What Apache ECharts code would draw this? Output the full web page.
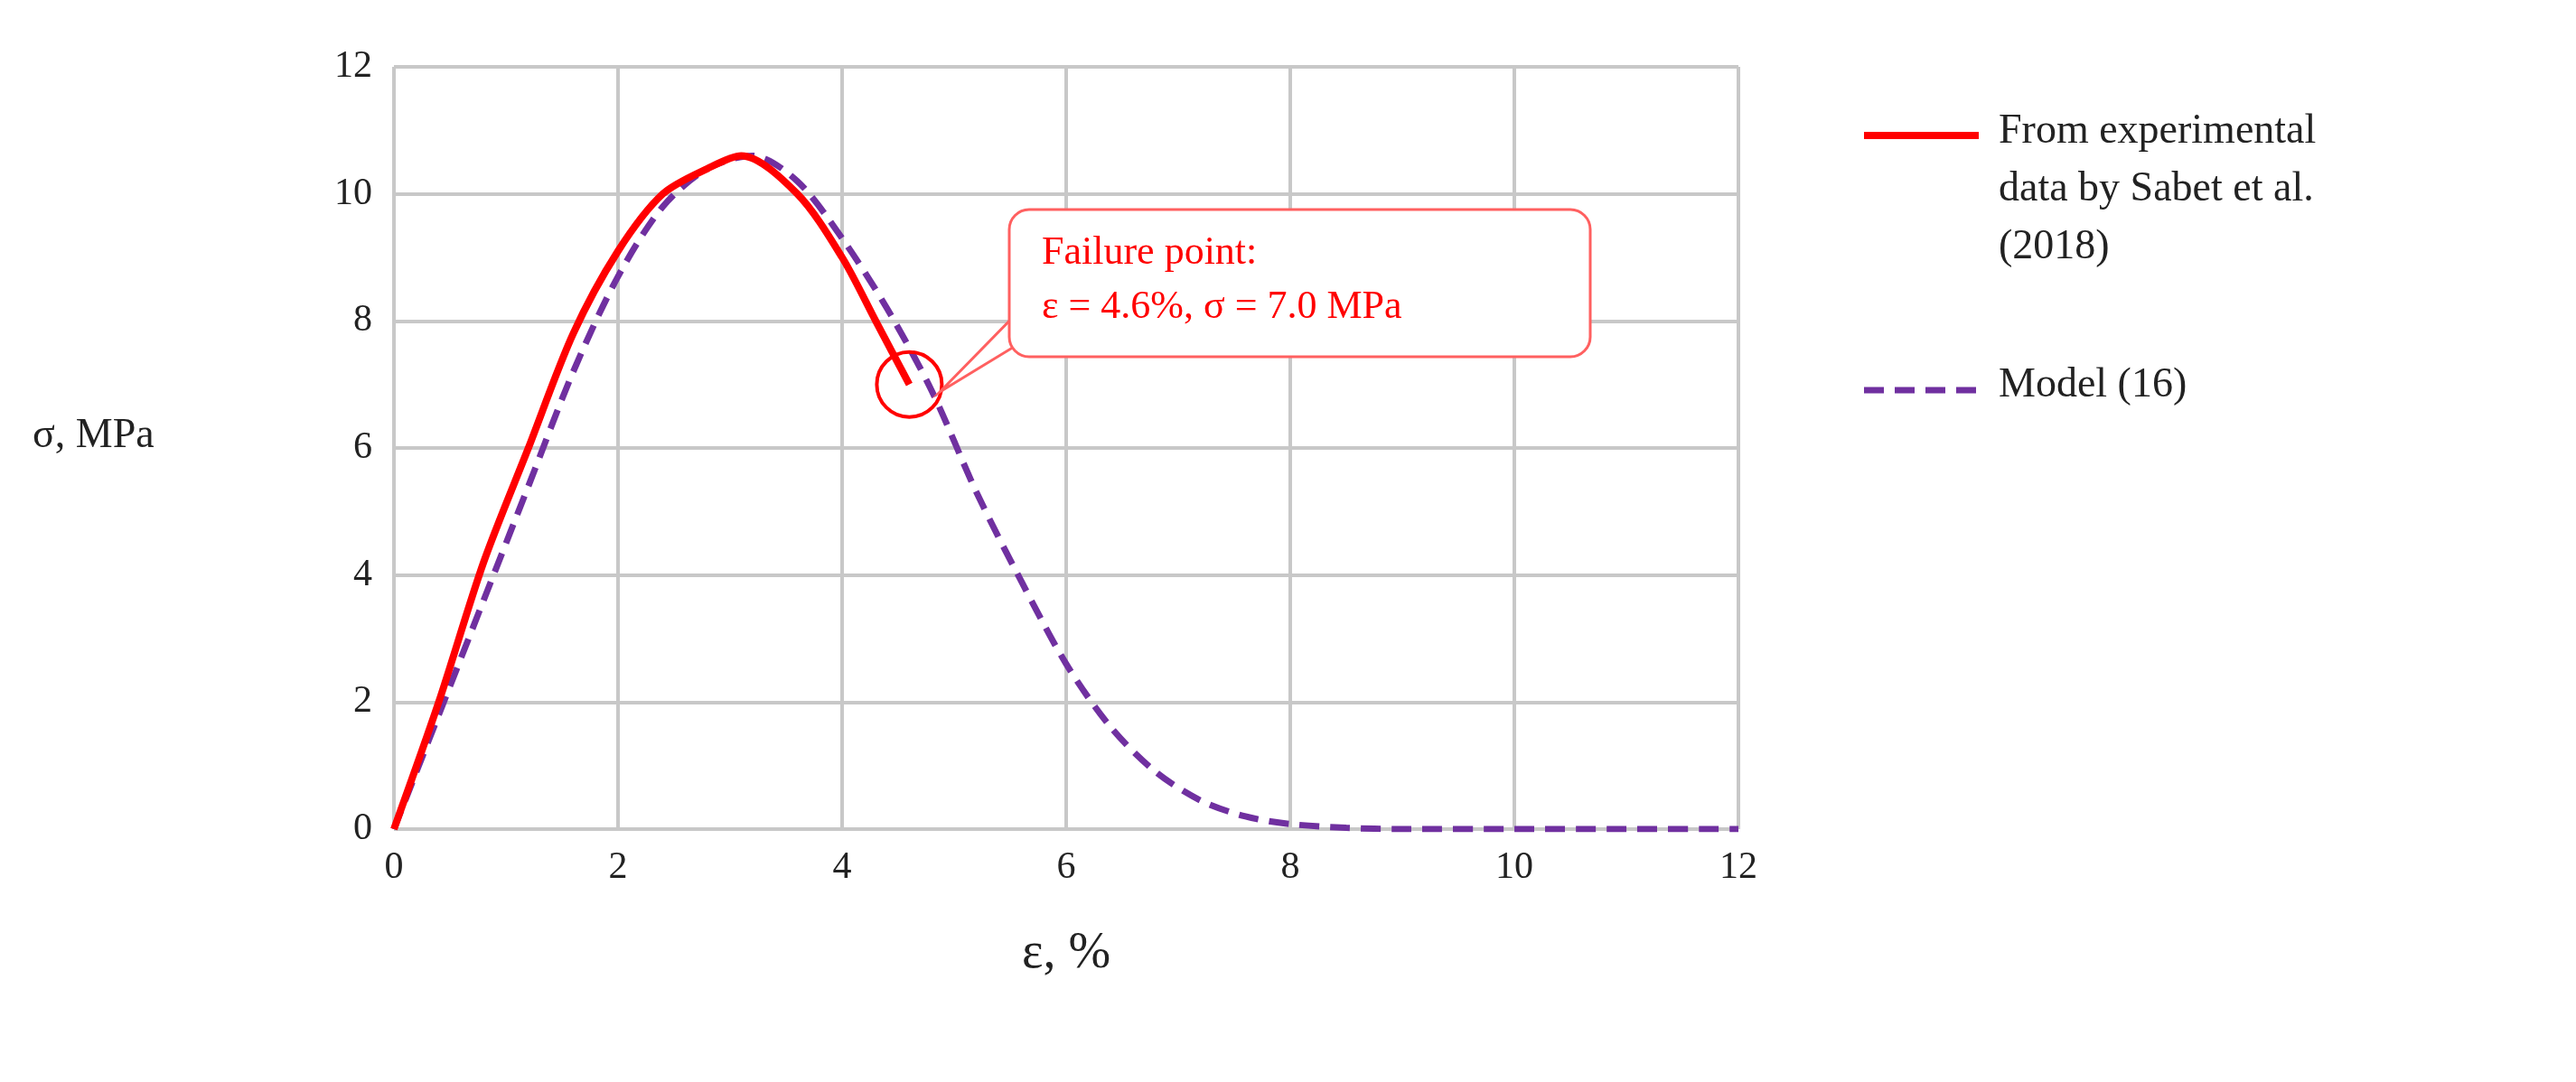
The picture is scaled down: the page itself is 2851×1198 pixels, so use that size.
<!DOCTYPE html>
<html><head><meta charset="utf-8">
<script src="https://cdn.jsdelivr.net/npm/echarts@6/dist/echarts.min.js"></script>
<style>html,body{margin:0;background:#fff}#c{width:2851px;height:1198px}</style></head>
<body><div id="c"></div>
<script>
const xTicks = [0,2,4,6,8,10,12];
const yTicks = [0,2,4,6,8,10,12];
const expX = [0,0.4,0.8,1.2,1.6,2.0,2.4,2.8,3.1,3.6,4.0,4.3,4.6];
const expY = [0,2.0,4.2,6.0,7.8,9.1,10.0,10.4,10.6,10.0,9.0,8.0,7.0];
const modX = [0,0.4,0.8,1.2,1.6,2.0,2.4,2.8,3.2,3.6,4.0,4.4,4.8,5.2,5.6,6.0,6.4,6.8,7.2,7.6,8.0,8.5,9.0,10,11,12];
const modY = [0,1.8,3.6,5.4,7.2,8.7,9.8,10.4,10.6,10.2,9.3,8.2,6.9,5.3,3.9,2.6,1.6,0.9,0.45,0.2,0.08,0.02,0,0,0,0];
const seriesNames = ['From experimental\ndata by Sabet et al.\n(2018)','Model (16)'];
const failure = [4.6,7.0];
const F = 'Liberation Serif, DejaVu Serif, serif';
const chart = echarts.init(document.getElementById('c'));
const ax = {min:0,max:12,interval:2,axisLine:{show:false},axisTick:{show:false},
  splitLine:{show:true,lineStyle:{color:'#c8c8c8',width:4}},
  axisLabel:{fontFamily:F,fontSize:42,color:'#222'}};
chart.setOption({
  animation:false,
  grid:{left:436,right:927,top:74,bottom:280},
  xAxis:Object.assign({type:'value',name:'ε, %',nameLocation:'middle',nameGap:110,
    nameTextStyle:{fontFamily:F,fontSize:56,color:'#222'}},ax,{axisLabel:Object.assign({},ax.axisLabel,{margin:22})}),
  yAxis:Object.assign({type:'value'},ax,{axisLabel:Object.assign({},ax.axisLabel,{margin:24})}),
  series:[
    {type:'line',data:modX.map((x,i)=>[x,modY[i]]),smooth:0.3,showSymbol:false,
      lineStyle:{color:'#7030a0',width:7,type:[22,12]},z:2},
    {type:'line',data:expX.map((x,i)=>[x,expY[i]]),smooth:0.3,showSymbol:false,
      lineStyle:{color:'#ff0000',width:8},z:3}
  ]
});
const p = chart.convertToPixel({gridIndex:0},failure);
const bx=1117, by=232, bw=643, bh=163;
chart.setOption({graphic:[
  {type:'text',left:36,top:460,style:{text:'σ, MPa',font:'46px '+F,fill:'#222'}},
  {type:'circle',shape:{cx:p[0],cy:p[1],r:36},style:{fill:'none',stroke:'#ff0000',lineWidth:4},z:10},
  {type:'polygon',shape:{points:[[bx+20,by+bh-60],[bx+20,by+bh-20],[p[0]+34,p[1]+8]]},style:{fill:'#fff',stroke:'#ff6060',lineWidth:3},z:10},
  {type:'rect',shape:{x:bx,y:by,width:bw,height:bh,r:22},style:{fill:'#fff',stroke:'#ff6060',lineWidth:3},z:11},
  {type:'rect',shape:{x:bx+2,y:by+bh-58,width:30,height:36},style:{fill:'#fff'},z:12},
  {type:'text',x:bx+36,y:by+18,style:{text:'Failure point:\nε = 4.6%, σ = 7.0 MPa',font:'44px '+F,fill:'#ff0000',lineHeight:60},z:13},
  {type:'line',shape:{x1:2063,y1:150,x2:2190,y2:150},style:{stroke:'#ff0000',lineWidth:8}},
  {type:'text',x:2212,y:114,style:{text:seriesNames[0],font:'46px '+F,fill:'#222',lineHeight:64}},
  {type:'line',shape:{x1:2063,y1:432,x2:2190,y2:432},style:{stroke:'#7030a0',lineWidth:7,lineDash:[22,12]}},
  {type:'text',x:2212,y:404,style:{text:seriesNames[1],font:'46px '+F,fill:'#222'}}
]});
</script></body></html>
